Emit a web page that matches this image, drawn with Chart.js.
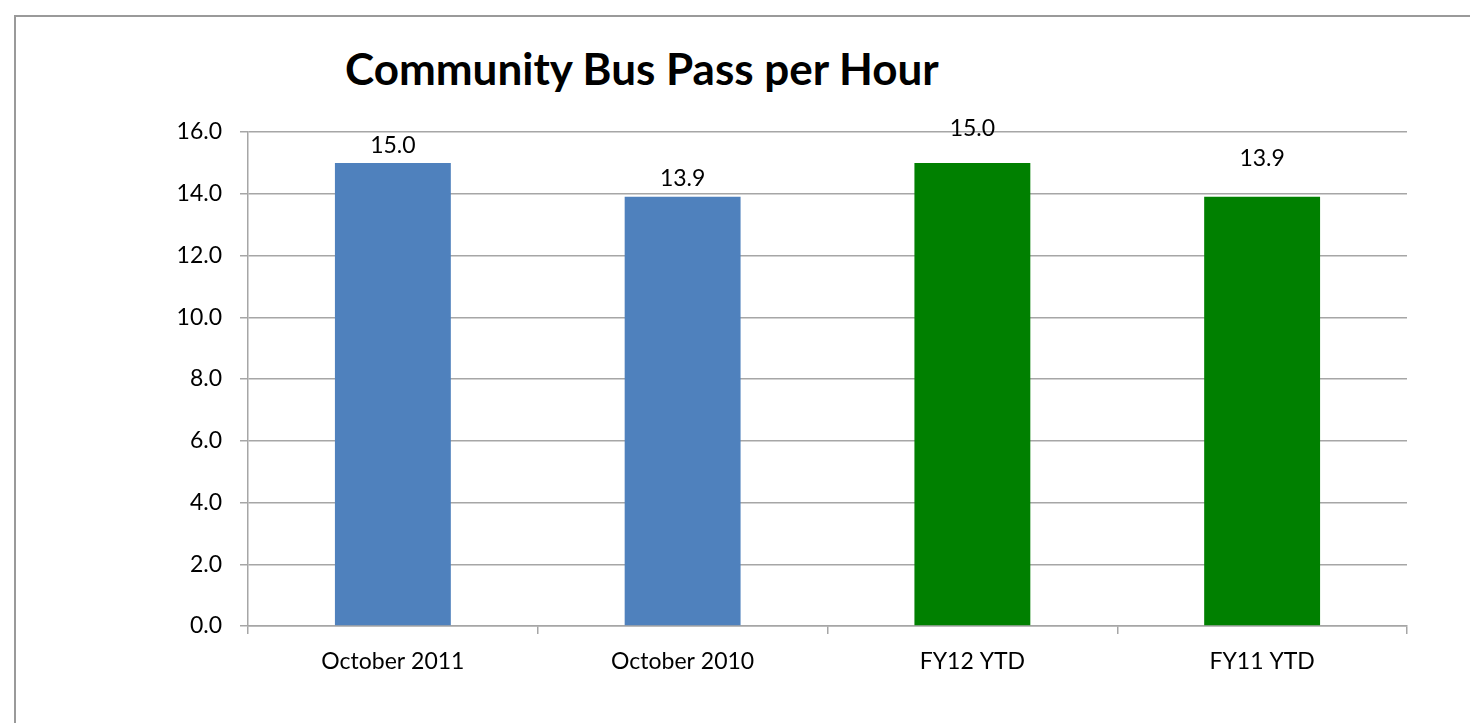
<!DOCTYPE html>
<html>
<head>
<meta charset="utf-8">
<script src="https://cdn.jsdelivr.net/npm/chart.js@4/dist/chart.umd.min.js"></script>
<style>
  html, body { margin: 0; padding: 0; background: #fff; overflow: hidden; }
  #wrap { position: relative; width: 1470px; height: 723px; }
  #frame { position: absolute; left: 14px; top: 15px; width: 1500px; height: 800px; border: 2px solid #9a9a9a; box-sizing: border-box; }
  #title { position: absolute; left: 345px; top: 42px; font-family: Lato, "Open Sans", sans-serif; font-weight: bold; font-size: 44px; color: #000; white-space: nowrap; }
  canvas { position: absolute; left: 0; top: 0; }
</style>
</head>
<body>
<div id="wrap">
  <div id="frame"></div>
  <div id="title">Community Bus Pass per Hour</div>
  <canvas id="c" width="1470" height="723"></canvas>
</div>
<script>
const categories = ["October 2011", "October 2010", "FY12 YTD", "FY11 YTD"];
const values = [15.0, 13.9, 15.0, 13.9];
const barColors = ["#4f81bd", "#4f81bd", "#008000", "#008000"];
const yTicks = [0, 2, 4, 6, 8, 10, 12, 14, 16];
const labelLift = [17, 18, 34, 38];

const FONT = 'Lato, "Open Sans", sans-serif';

const labelPlugin = {
  id: 'valueLabels',
  afterDatasetsDraw(chart) {
    const ctx = chart.ctx;
    const meta = chart.getDatasetMeta(0);
    ctx.save();
    ctx.font = '23px ' + FONT;
    ctx.fillStyle = '#000';
    ctx.textAlign = 'center';
    ctx.textBaseline = 'middle';
    meta.data.forEach((bar, i) => {
      ctx.fillText(values[i].toFixed(1), bar.x, bar.y - labelLift[i]);
    });
    ctx.restore();
  }
};

new Chart(document.getElementById('c'), {
  type: 'bar',
  data: {
    labels: categories,
    datasets: [{
      data: values,
      backgroundColor: barColors,
      borderWidth: 0,
      barPercentage: 0.4,
      categoryPercentage: 1.0
    }]
  },
  options: {
    responsive: false,
    animation: false,
    events: [],
    layout: { padding: { left: 0, right: 63, top: 132, bottom: 0 } },
    plugins: { legend: { display: false }, title: { display: false }, tooltip: { enabled: false } },
    scales: {
      x: {
        afterFit(s) { s.height = 97; },
        grid: { drawOnChartArea: false, drawTicks: true, tickLength: 8, color: '#a6a6a6', lineWidth: 1.5, offset: true },
        border: { display: true, color: '#a6a6a6', width: 1.5 },
        ticks: { font: { family: FONT, size: 23 }, color: '#000', padding: 14 }
      },
      y: {
        min: 0, max: 16,
        afterFit(s) { s.width = 248; },
        afterBuildTicks(s) { s.ticks = yTicks.map(v => ({ value: v })); },
        grid: { color: '#a6a6a6', lineWidth: 1.5, tickLength: 8 },
        border: { display: true, color: '#a6a6a6', width: 1.5 },
        ticks: { font: { family: FONT, size: 23 }, color: '#000', padding: 18, callback: v => Number(v).toFixed(1) }
      }
    }
  },
  plugins: [labelPlugin]
});
</script>
</body>
</html>
